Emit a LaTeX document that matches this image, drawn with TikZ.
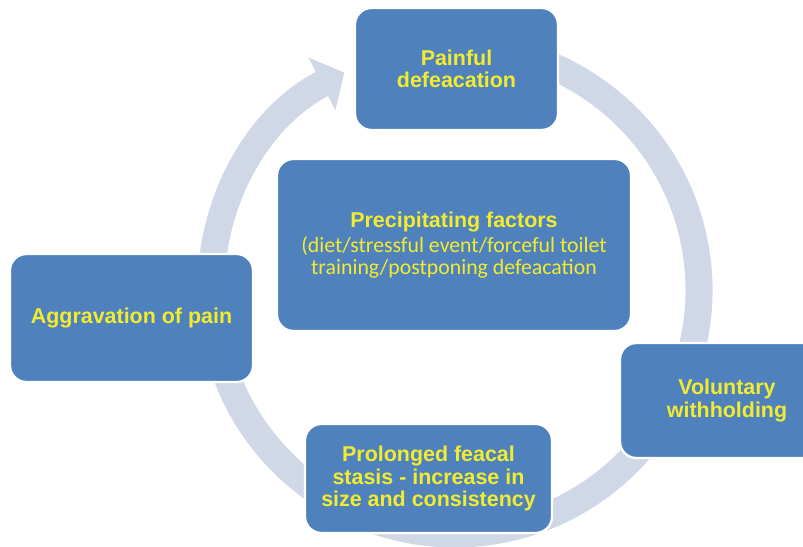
\documentclass[tikz,border=0pt]{standalone}
\usepackage{fontspec}
\setmainfont{Liberation Sans}
\newfontfamily\bodyfont{Carlito}
\usetikzlibrary{arrows.meta}
\pgfdeclarelayer{background}
\pgfsetlayers{background,main}
\definecolor{boxblue}{RGB}{79,129,189}
\definecolor{ringgrey}{RGB}{208,216,232}
\definecolor{labelyellow}{RGB}{242,236,48}
\newcommand{\causefont}{\mdseries\bodyfont\fontsize{18.6}{20.5}\selectfont}

\begin{document}
\begin{tikzpicture}[x=0.03cm,y=0.03cm,
  cyclebox/.style={draw=white,line width=2pt,fill=boxblue,rounded corners=14pt,
    text=labelyellow,align=center,inner sep=0pt,
    font=\bfseries\fontsize{18.3}{19}\selectfont}]
\useasboundingbox (0,0) rectangle (803,546);
\clip (0,0) rectangle (803,546);
\node[cyclebox,minimum width=6.09cm,minimum height=3.66cm] (pain) at (456.5,477) {Painful\\defeacation};
\node[cyclebox,minimum width=10.62cm,minimum height=5.16cm] (precip) at (454,301) {Precipitating factors\\[2pt]
  \causefont (diet/stressful event/forceful toilet\\\causefont training/postponing defeacation};
\node[cyclebox,minimum width=6.42cm,minimum height=3.45cm] (withhold) at (727,145.5) {Voluntary\\withholding};
\node[cyclebox,minimum width=7.41cm,minimum height=3.27cm] (stasis) at (428.5,67.5) {Prolonged feacal\\stasis - increase in\\size and consistency};
\node[cyclebox,minimum width=7.29cm,minimum height=3.84cm] (aggr) at (131.5,228) {Aggravation of pain};
\begin{pgfonlayer}{background}
\coordinate (hub) at (455,256); %centre of the cycle
\draw[ringgrey,line width=0.81cm,-{Triangle[width=1.74cm,length=0.75cm]}] (hub) ++(100:244) arc[start angle=100,end angle=-243,radius=244];
\end{pgfonlayer}
\end{tikzpicture}
\end{document}
